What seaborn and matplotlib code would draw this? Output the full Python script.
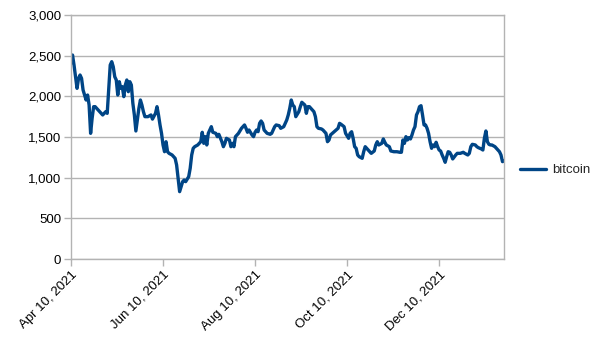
import matplotlib
matplotlib.use("Agg")
import matplotlib.pyplot as plt
import matplotlib.dates as mdates
from matplotlib.ticker import FuncFormatter
import numpy as np
import pandas as pd
import seaborn as sns

# Days since the first observation and the daily bitcoin reading
start_date = "2021-04-10"
day_offsets = [
    0, 1, 2, 3, 4, 5, 6, 7, 8, 9, 10, 11, 12, 13, 14, 15, 16, 18, 20, 21,
    23, 24, 25, 26, 27, 28, 29, 30, 31, 32, 33, 34, 35, 36, 37, 38, 39, 40,
    41, 42, 43, 44, 45, 46, 47, 48, 49, 51, 53, 54, 56, 57, 58, 59, 60, 61,
    62, 63, 64, 65, 67, 69, 70, 71, 72, 73, 74, 75, 76, 78, 79, 80, 81, 82,
    84, 85, 86, 87, 88, 89, 90, 91, 92, 93, 94, 96, 97, 98, 100, 101, 102,
    103, 105, 106, 107, 108, 109, 111, 113, 114, 115, 116, 117, 118, 120,
    121, 122, 123, 124, 125, 126, 127, 128, 130, 132, 133, 135, 136, 138,
    139, 141, 142, 143, 144, 145, 146, 147, 148, 149, 151, 152, 153, 155,
    156, 157, 158, 159, 161, 162, 163, 164, 166, 167, 169, 170, 171, 172,
    174, 175, 177, 178, 179, 181, 182, 184, 185, 186, 187, 188, 189, 190,
    191, 193, 194, 195, 196, 198, 199, 201, 202, 203, 204, 206, 207, 208,
    209, 211, 212, 214, 216, 218, 219, 220, 221, 222, 223, 224, 225, 226,
    227, 228, 229, 230, 231, 232, 233, 234, 235, 236, 237, 238, 239, 240,
    241, 242, 243, 244, 245, 246, 247, 248, 249, 250, 251, 252, 253, 255,
    256, 258, 260, 261, 263, 264, 265, 266, 268, 269, 270, 272, 273, 274,
    275, 276, 277, 278, 279, 281, 282, 283, 284, 285, 286, 287,
]
bitcoin = [
    2407, 2508, 2385, 2241, 2098, 2221, 2262, 2221, 2078, 2016, 1955, 2016,
    1893, 1545, 1730, 1873, 1873, 1832, 1791, 1771, 1811, 1791, 2098, 2385,
    2426, 2364, 2241, 2201, 2016, 2180, 2098, 2119, 1996, 2139, 2201, 2057,
    2180, 2139, 1914, 1771, 1574, 1709, 1853, 1955, 1893, 1811, 1750, 1750,
    1771, 1720, 1791, 1873, 1771, 1648, 1545, 1402, 1319, 1442, 1319, 1299,
    1279, 1238, 1156, 992, 828, 889, 951, 971, 951, 1012, 1115, 1279, 1361,
    1381, 1402, 1422, 1442, 1558, 1422, 1504, 1402, 1545, 1586, 1627, 1558,
    1545, 1504, 1533, 1442, 1381, 1422, 1484, 1463, 1381, 1422, 1381, 1504,
    1545, 1607, 1627, 1648, 1607, 1558, 1586, 1525, 1504, 1558, 1586, 1565,
    1668, 1697, 1668, 1586, 1545, 1533, 1545, 1627, 1648, 1639, 1607, 1627,
    1668, 1709, 1771, 1853, 1955, 1893, 1873, 1750, 1811, 1873, 1927, 1893,
    1791, 1873, 1873, 1853, 1811, 1750, 1627, 1607, 1599, 1586, 1545, 1442,
    1463, 1525, 1558, 1574, 1607, 1668, 1656, 1627, 1545, 1484, 1545, 1565,
    1484, 1381, 1361, 1279, 1258, 1238, 1319, 1381, 1361, 1319, 1299, 1328,
    1402, 1442, 1402, 1422, 1476, 1435, 1402, 1381, 1328, 1319, 1319, 1312,
    1312, 1463, 1422, 1504, 1463, 1492, 1476, 1525, 1586, 1627, 1771, 1811,
    1873, 1885, 1771, 1648, 1648, 1607, 1545, 1442, 1361, 1402, 1381, 1435,
    1381, 1340, 1328, 1279, 1238, 1189, 1258, 1319, 1312, 1279, 1230, 1279,
    1299, 1299, 1312, 1299, 1279, 1299, 1381, 1410, 1402, 1381, 1369, 1353,
    1340, 1484, 1574, 1442, 1410, 1402, 1402, 1381, 1361, 1340, 1319, 1279,
    1197, 1205,
]
tick_dates = ["2021-04-10", "2021-06-10", "2021-08-10", "2021-10-10", "2021-12-10"]
y_ticks = [0, 500, 1000, 1500, 2000, 2500, 3000]

dates = pd.Timestamp(start_date) + pd.to_timedelta(day_offsets, unit="D")
df = pd.DataFrame({"date": dates, "bitcoin": bitcoin})

sns.set_theme(style="white")
plt.rcParams["font.family"] = ["Liberation Sans", "DejaVu Sans"]

grid_grey = "#b3b3b3"
line_blue = "#004586"

fig = plt.figure(figsize=(6.05, 3.40), dpi=100)
ax = fig.add_axes([71 / 605, 1 - 259 / 340, (504 - 71) / 605, (259 - 15) / 340])

sns.lineplot(data=df, x="date", y="bitcoin", ax=ax, color=line_blue,
             linewidth=2.4, label="bitcoin", legend=False)

ax.set_xlim(dates[0], dates[-1])
ax.set_ylim(0, 3000)
ax.set_yticks(y_ticks)
ax.yaxis.set_major_formatter(FuncFormatter(lambda v, _: f"{int(v):,}"))
ax.set_xticks(pd.to_datetime(tick_dates))
ax.xaxis.set_major_formatter(mdates.DateFormatter("%b %d, %Y"))
ax.set_xlabel("")
ax.set_ylabel("")

ax.grid(axis="y", color=grid_grey, linewidth=1.0)
ax.grid(axis="x", visible=False)
ax.set_axisbelow(True)
for side in ["left", "bottom", "right", "top"]:
    ax.spines[side].set_color(grid_grey)
    ax.spines[side].set_linewidth(1.0)

ax.tick_params(axis="both", which="major", direction="out", length=5,
               width=1.0, color=grid_grey, labelsize=9.5, labelcolor="black",
               left=True, bottom=True, pad=2)
for lbl in ax.get_xticklabels():
    lbl.set_rotation(45)
    lbl.set_ha("right")
    lbl.set_rotation_mode("anchor")

handles, labels = ax.get_legend_handles_labels()
fig.legend(handles, labels, loc="center left",
           bbox_to_anchor=(520 / 605, 0.5), frameon=False,
           fontsize=9.5, handlelength=2.0, handletextpad=0.45,
           borderpad=0, borderaxespad=0)

fig.savefig("out.png", dpi=100)
